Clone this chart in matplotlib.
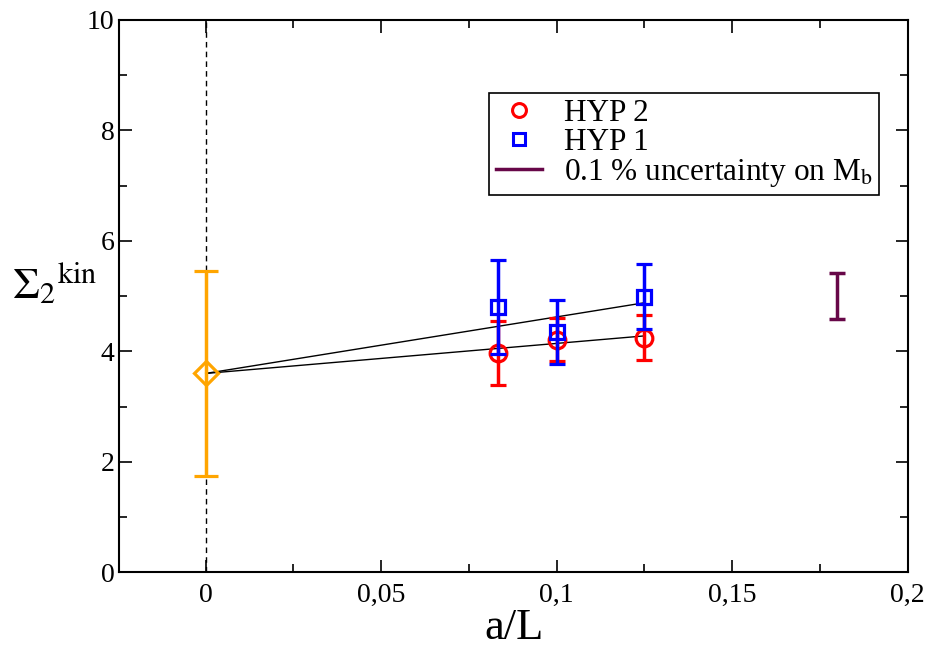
import numpy as np
import matplotlib
matplotlib.use('Agg')
from matplotlib import pyplot as plt
from matplotlib.lines import Line2D
from matplotlib.ticker import MultipleLocator, FuncFormatter

plt.rcParams['font.family'] = 'Liberation Serif'
plt.rcParams['mathtext.fontset'] = 'stix'

# data
a_over_L = [1/12, 0.1, 0.125]
hyp2 = [3.97, 4.21, 4.25]
hyp2_err = [0.58, 0.39, 0.40]
hyp1 = [4.80, 4.35, 4.99]
hyp1_err = [0.85, 0.58, 0.59]

cont_x = [0.0]
cont_y = [3.60]
cont_err = [1.85]

fit_hyp1 = [3.60, 4.88]
fit_hyp2 = [3.60, 4.28]
fit_x = [0.0, 0.125]

mb_x = [0.18]
mb_y = [5.0]
mb_err = [0.42]

maroon = '#670748'

fig = plt.figure(figsize=(9.28, 6.47), dpi=100)
ax = fig.add_axes([0.1286, 0.1155, 0.8495, 0.8536])

ax.axvline(0, color='black', lw=1, ls=(0, (4, 3)), zorder=1)

ax.plot(fit_x, fit_hyp1, color='black', lw=1, zorder=2)
ax.plot(fit_x, fit_hyp2, color='black', lw=1, zorder=2)

ax.errorbar(a_over_L, hyp2, yerr=hyp2_err, fmt='o', color='red', mfc='none',
            ms=12, mew=2.3, elinewidth=2.5, capsize=6, capthick=2.5, zorder=3)
ax.errorbar(a_over_L, hyp1, yerr=hyp1_err, fmt='s', color='blue', mfc='none',
            ms=10.5, mew=2.3, elinewidth=2.5, capsize=6, capthick=2.5, zorder=4)
ax.errorbar(cont_x, cont_y, yerr=cont_err, fmt='D', color='orange', mfc='none',
            ms=12.5, mew=2.3, elinewidth=2.5, capsize=8.5, capthick=2.5, zorder=3)
ax.errorbar(mb_x, mb_y, yerr=mb_err, fmt='none', ecolor=maroon,
            elinewidth=2.5, capsize=6, capthick=2.5, zorder=3)

ax.set_xlim(-0.0246, 0.2)
ax.set_ylim(0, 10)
ax.xaxis.set_major_locator(MultipleLocator(0.05))
ax.xaxis.set_minor_locator(MultipleLocator(0.025))
ax.yaxis.set_major_locator(MultipleLocator(2))
ax.yaxis.set_minor_locator(MultipleLocator(1))

def comma(v, pos):
    s = ('%.2f' % v).rstrip('0').rstrip('.')
    if s == '-0':
        s = '0'
    return s.replace('.', ',')

ax.xaxis.set_major_formatter(FuncFormatter(comma))
ax.tick_params(which='both', direction='in', top=True, right=True,
               labelsize=20, width=1.2)
ax.tick_params(which='major', length=9)
ax.tick_params(which='minor', length=5.5)
ax.tick_params(axis='x', pad=8)
for sp in ax.spines.values():
    sp.set_linewidth(1.5)

ax.set_xlabel('a/L', fontsize=32, labelpad=0)
fig.text(0.013, 0.56, r'$\Sigma_2{}^{\mathrm{kin}}$', fontsize=31,
         ha='left', va='center')

handles = [
    Line2D([], [], ls='none', marker='o', color='red', mfc='none', ms=10, mew=2.2),
    Line2D([], [], ls='none', marker='s', color='blue', mfc='none', ms=9, mew=2.2),
    Line2D([], [], color=maroon, lw=2.5),
]
labels = ['HYP 2', 'HYP 1', '0.1 % uncertainty on M$_\\mathrm{b}$']
leg = ax.legend(handles, labels, loc='upper right', bbox_to_anchor=(0.964, 0.868),
                borderaxespad=0, fancybox=False, edgecolor='black', fontsize=22.5,
                handlelength=1.5, handletextpad=0.7, labelspacing=0.0,
                borderpad=0.2, framealpha=1)
leg.get_frame().set_linewidth(1.2)

fig.savefig('out.png', dpi=100)
